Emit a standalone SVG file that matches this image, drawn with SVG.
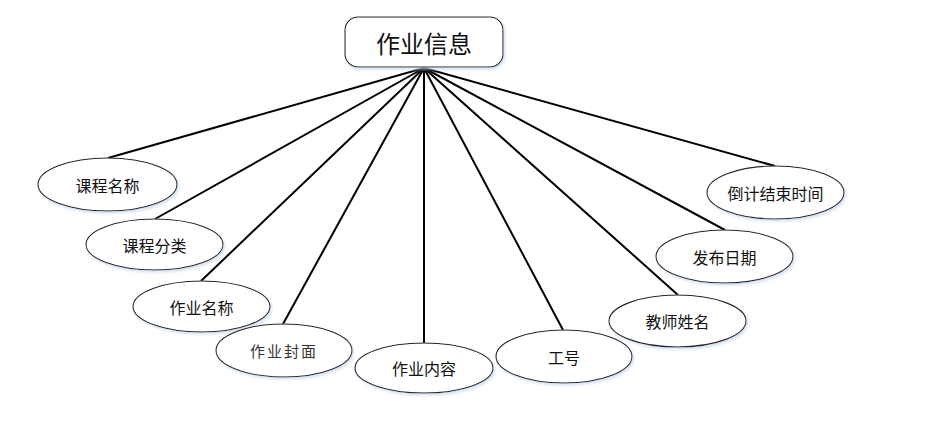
<svg xmlns="http://www.w3.org/2000/svg" width="935" height="425" viewBox="0 0 935 425">
<style>
.e{fill:#fff;stroke:#222;stroke-width:1.1;filter:url(#sh)}
.t{font-family:"Noto Sans CJK SC","Liberation Sans",sans-serif;font-size:16px;fill:#111;text-anchor:middle;dominant-baseline:central}
.c line{stroke:#000;stroke-width:2}
</style>
<defs>
<filter id="sh" x="-10%" y="-20%" width="120%" height="140%">
<feDropShadow dx="1.5" dy="2" stdDeviation="1.5" flood-color="#c8d8ee" flood-opacity="0.8"/>
</filter>
</defs>
<rect width="935" height="425" fill="#fff"/>
<g class="c" id="connectors">
<line x1="424" y1="68" x2="108" y2="158"/>
<line x1="424" y1="68" x2="155" y2="219"/>
<line x1="424" y1="68" x2="201" y2="281"/>
<line x1="424" y1="68" x2="283" y2="324"/>
<line x1="424" y1="68" x2="424" y2="343"/>
<line x1="424" y1="68" x2="563" y2="330"/>
<line x1="424" y1="68" x2="678" y2="295"/>
<line x1="424" y1="68" x2="725" y2="230"/>
<line x1="424" y1="68" x2="775" y2="166"/>
</g>
<g id="main">
<rect x="345" y="17" width="158" height="50" rx="13" class="e"/>
<text x="424" y="42" class="t" style="font-size:24px">作业信息</text>
</g>
<g id="n1"><ellipse cx="107.5" cy="184.5" rx="69.5" ry="26.5" class="e"/><text x="107.5" y="184.5" class="t">课程名称</text></g>
<g id="n2"><ellipse cx="154.5" cy="244.5" rx="68.5" ry="25.5" class="e"/><text x="154.5" y="244.5" class="t">课程分类</text></g>
<g id="n3"><ellipse cx="201.5" cy="306.5" rx="68.5" ry="25.5" class="e"/><text x="201.5" y="306.5" class="t">作业名称</text></g>
<g id="n4"><ellipse cx="284" cy="350.5" rx="68" ry="26.5" class="e"/><text x="284" y="350.5" class="t" style="font-size:15px;letter-spacing:2px;fill:#333">作业封面</text></g>
<g id="n5"><ellipse cx="424" cy="368" rx="69" ry="25" class="e"/><text x="424" y="368" class="t">作业内容</text></g>
<g id="n6"><ellipse cx="564" cy="356.5" rx="68" ry="26.5" class="e"/><text x="564" y="356.5" class="t">工号</text></g>
<g id="n7"><ellipse cx="677.5" cy="321" rx="68.5" ry="26" class="e"/><text x="677.5" y="321" class="t">教师姓名</text></g>
<g id="n8"><ellipse cx="724.5" cy="256.5" rx="68.5" ry="26.5" class="e"/><text x="724.5" y="256.5" class="t">发布日期</text></g>
<g id="n9"><ellipse cx="775.5" cy="192.5" rx="68.5" ry="26.5" class="e"/><text x="775.5" y="192.5" class="t">倒计结束时间</text></g>
</svg>
